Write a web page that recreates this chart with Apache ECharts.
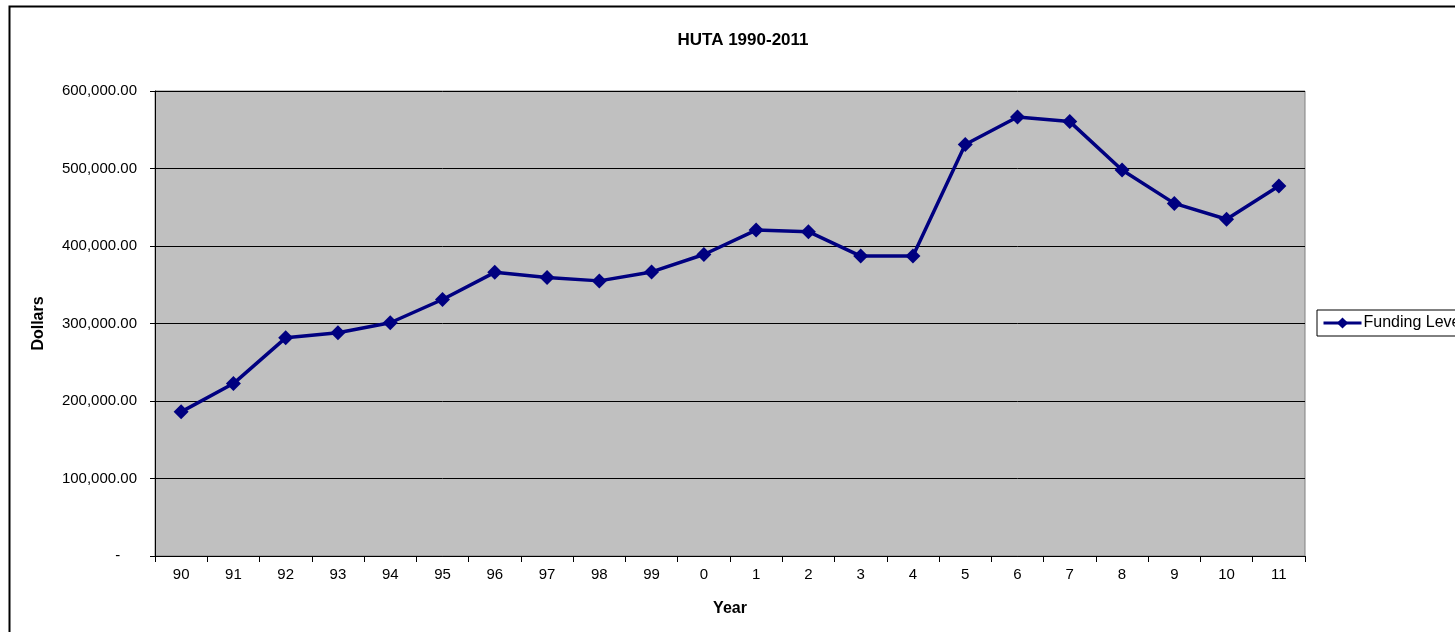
<!DOCTYPE html>
<html>
<head>
<meta charset="utf-8">
<title>HUTA 1990-2011</title>
<script src="https://cdn.jsdelivr.net/npm/echarts@6/dist/echarts.min.js"></script>
<style>
  html, body { margin: 0; padding: 0; background: #fff; }
  #chart { width: 1455px; height: 632px; }
</style>
</head>
<body>
<div id="chart"></div>
<script>
// Year labels (two-digit) and yearly funding in dollars
const years = ['90','91','92','93','94','95','96','97','98','99','0','1','2','3','4','5','6','7','8','9','10','11'];
const fundingLevel = [186000, 222500, 281500, 288000, 301000, 331000, 366000, 359500, 355000, 366500, 389000, 420500, 418500, 387000, 387000, 531000, 566500, 560500, 498000, 455000, 434500, 477500];
const yTicks = [0, 100000, 200000, 300000, 400000, 500000, 600000];

const FONT = 'Arial, "Liberation Sans", sans-serif';

// Accounting-style labels: two decimals, zero shown as a padded dash
function fmtDollars(v) {
  if (v === 0) return '-    ';
  return v.toLocaleString('en-US', { minimumFractionDigits: 2, maximumFractionDigits: 2 });
}

const chart = echarts.init(document.getElementById('chart'));
chart.setOption({
  animation: false,
  backgroundColor: '#fff',
  title: {
    text: 'HUTA 1990-2011',
    left: 738, top: 27,
    textAlign: 'center',
    textStyle: { fontFamily: FONT, fontSize: 17, fontWeight: 'bold', color: '#000' }
  },
  legend: {
    left: 1317, top: 310,
    orient: 'vertical',
    padding: [5, 6, 5, 5],
    itemGap: 0,
    itemWidth: 38, itemHeight: 14,
    borderColor: '#000', borderWidth: 1,
    backgroundColor: '#fff',
    lineStyle: { width: 3 },
    textStyle: { fontFamily: FONT, fontSize: 16, color: '#000', padding: [0, 0, 0, -3] },
    data: ['Funding Level']
  },
  grid: { left: 155, right: 150, top: 91, bottom: 76, show: true, backgroundColor: '#C0C0C0', borderColor: '#808080', borderWidth: 1 },
  xAxis: {
    type: 'category',
    data: years,
    boundaryGap: true,
    name: 'Year',
    nameLocation: 'middle',
    nameGap: 45,
    nameTextStyle: { fontFamily: FONT, fontSize: 16, fontWeight: 'bold', color: '#000' },
    axisLine: { lineStyle: { color: '#000', width: 1 } },
    axisTick: { show: true, alignWithLabel: false, length: 6, lineStyle: { color: '#000' } },
    axisLabel: { fontFamily: FONT, fontSize: 15, color: '#000', margin: 11 },
    splitLine: { show: false }
  },
  yAxis: {
    type: 'value',
    min: yTicks[0], max: yTicks[yTicks.length - 1], interval: 100000,
    name: 'Dollars',
    nameLocation: 'middle',
    nameGap: 108,
    nameRotate: 90,
    nameTextStyle: { fontFamily: FONT, fontSize: 16, fontWeight: 'bold', color: '#000' },
    axisLine: { show: true, lineStyle: { color: '#000', width: 1 } },
    axisTick: { show: true, length: 5, lineStyle: { color: '#000' } },
    axisLabel: { fontFamily: FONT, fontSize: 15, color: '#000', margin: 18, formatter: fmtDollars },
    splitLine: { show: true, lineStyle: { color: '#000', width: 1 } }
  },
  series: [{
    name: 'Funding Level',
    type: 'line',
    data: fundingLevel,
    symbol: 'diamond',
    symbolSize: 15,
    itemStyle: { color: '#000080' },
    lineStyle: { color: '#000080', width: 3.5 }
  }],
  graphic: [{
    type: 'rect',
    left: 7, top: 4,
    shape: { width: 1600, height: 700 },
    style: { fill: 'none', stroke: '#000', lineWidth: 2 },
    silent: true
  }]
});
</script>
</body>
</html>
